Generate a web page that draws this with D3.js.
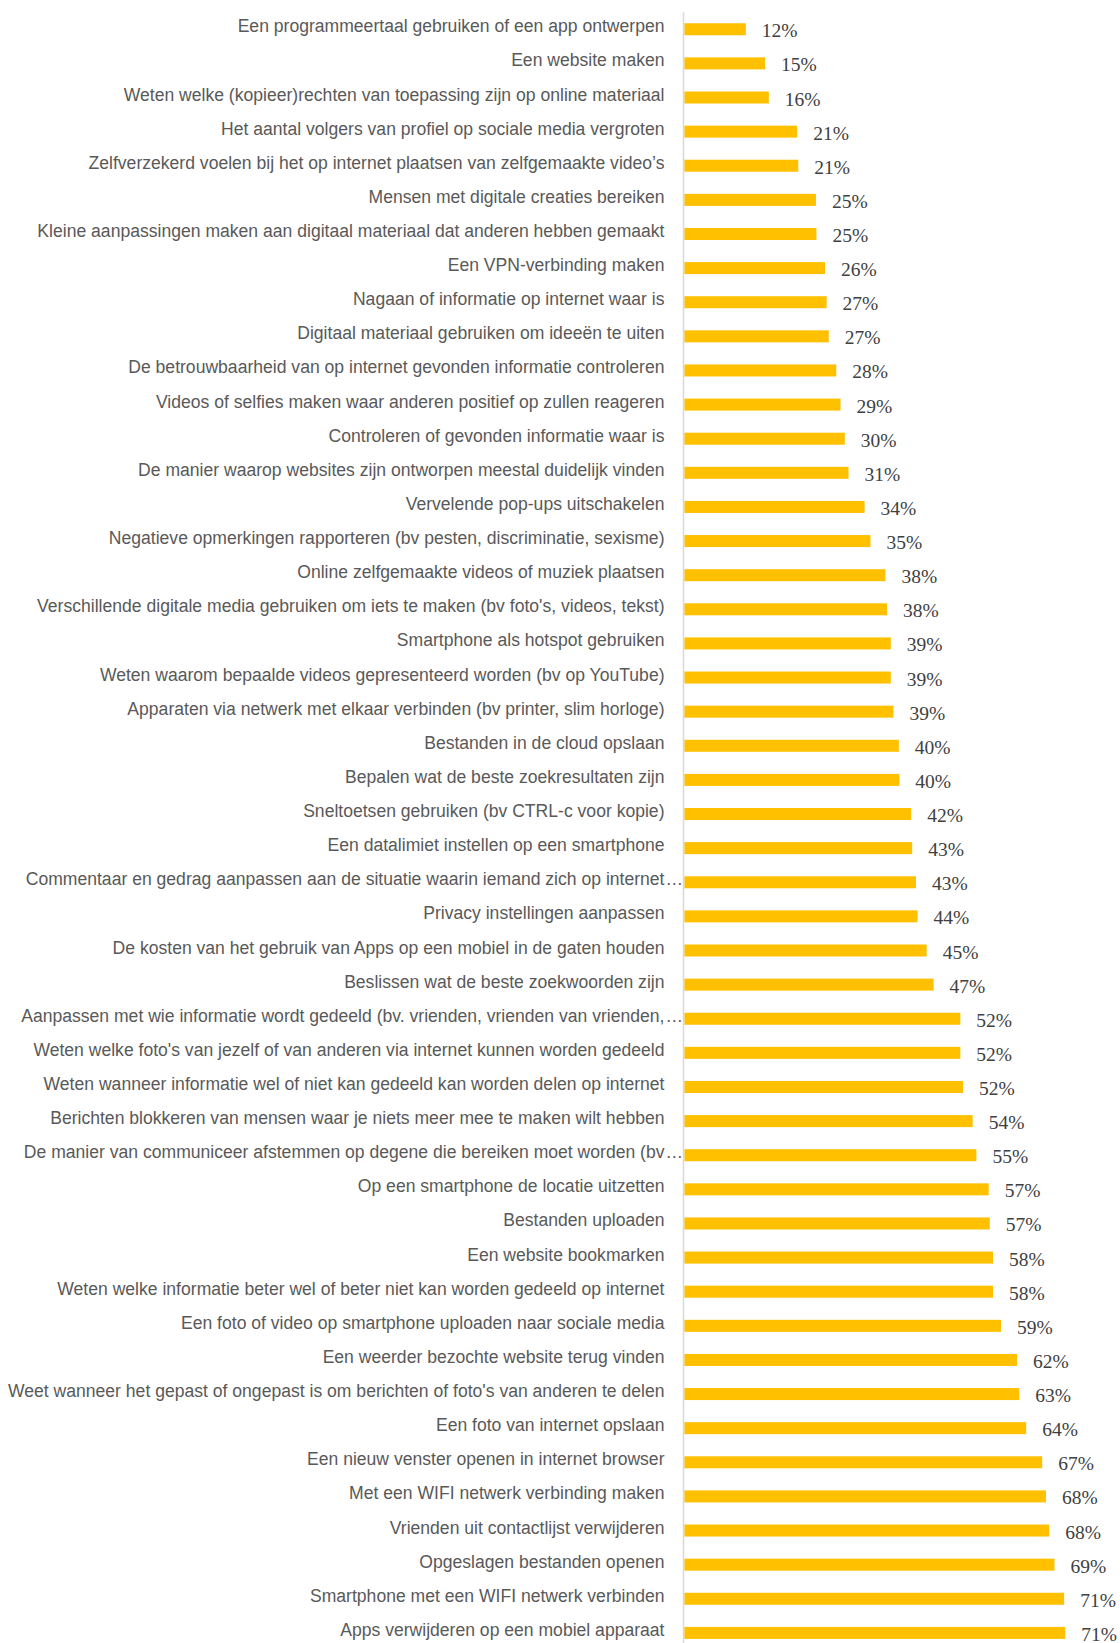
<!DOCTYPE html>
<html>
<head>
<meta charset="utf-8">
<script src="https://cdn.jsdelivr.net/npm/d3@7"></script>
<style>
  html, body { margin: 0; padding: 0; background: #ffffff; }
  svg { display: block; }
</style>
</head>
<body>
<div id="chart"></div>
<script>
const categories = [
  "Een programmeertaal gebruiken of een app ontwerpen",
  "Een website maken",
  "Weten welke (kopieer)rechten van toepassing zijn op online materiaal",
  "Het aantal volgers van profiel op sociale media vergroten",
  "Zelfverzekerd voelen bij het op internet plaatsen van zelfgemaakte video’s",
  "Mensen met digitale creaties bereiken",
  "Kleine aanpassingen maken aan digitaal materiaal dat anderen hebben gemaakt",
  "Een VPN-verbinding maken",
  "Nagaan of informatie op internet waar is",
  "Digitaal materiaal gebruiken om ideeën te uiten",
  "De betrouwbaarheid van op internet gevonden informatie controleren",
  "Videos of selfies maken waar anderen positief op zullen reageren",
  "Controleren of gevonden informatie waar is",
  "De manier waarop websites zijn ontworpen meestal duidelijk vinden",
  "Vervelende pop-ups uitschakelen",
  "Negatieve opmerkingen rapporteren (bv pesten, discriminatie, sexisme)",
  "Online zelfgemaakte videos of muziek plaatsen",
  "Verschillende digitale media gebruiken om iets te maken (bv foto's, videos, tekst)",
  "Smartphone als hotspot gebruiken",
  "Weten waarom bepaalde videos gepresenteerd worden (bv op YouTube)",
  "Apparaten via netwerk met elkaar verbinden (bv printer, slim horloge)",
  "Bestanden in de cloud opslaan",
  "Bepalen wat de beste zoekresultaten zijn",
  "Sneltoetsen gebruiken (bv CTRL-c voor kopie)",
  "Een datalimiet instellen op een smartphone",
  "Commentaar en gedrag aanpassen aan de situatie waarin iemand zich op internet…",
  "Privacy instellingen aanpassen",
  "De kosten van het gebruik van Apps op een mobiel in de gaten houden",
  "Beslissen wat de beste zoekwoorden zijn",
  "Aanpassen met wie informatie wordt gedeeld (bv. vrienden, vrienden van vrienden,…",
  "Weten welke foto's van jezelf of van anderen via internet kunnen worden gedeeld",
  "Weten wanneer informatie wel of niet kan gedeeld kan worden delen op internet",
  "Berichten blokkeren van mensen waar je niets meer mee te maken wilt hebben",
  "De manier van communiceer afstemmen op degene die bereiken moet worden (bv…",
  "Op een smartphone de locatie uitzetten",
  "Bestanden uploaden",
  "Een website bookmarken",
  "Weten welke informatie beter wel of beter niet kan worden gedeeld op internet",
  "Een foto of video op smartphone uploaden naar sociale media",
  "Een weerder bezochte website terug vinden",
  "Weet wanneer het gepast of ongepast is om berichten of foto's van anderen te delen",
  "Een foto van internet opslaan",
  "Een nieuw venster openen in internet browser",
  "Met een WIFI netwerk verbinding maken",
  "Vrienden uit contactlijst verwijderen",
  "Opgeslagen bestanden openen",
  "Smartphone met een WIFI netwerk verbinden",
  "Apps verwijderen op een mobiel apparaat"
];

// percentages (bar lengths)
const values = [
  11.5, 15.1, 15.8, 21.1, 21.3, 24.6, 24.7, 26.3, 26.6, 27.0,
  28.4, 29.2, 30.0, 30.7, 33.7, 34.8, 37.6, 37.9, 38.6, 38.6,
  39.1, 40.1, 40.2, 42.4, 42.6, 43.3, 43.6, 45.3, 46.6, 51.6,
  51.6, 52.1, 53.9, 54.6, 56.9, 57.1, 57.7, 57.7, 59.2, 62.2,
  62.6, 63.9, 66.9, 67.6, 68.2, 69.2, 71.0, 71.2
];

// displayed data labels
const labels = [
  "12%", "15%", "16%", "21%", "21%", "25%", "25%", "26%", "27%", "27%",
  "28%", "29%", "30%", "31%", "34%", "35%", "38%", "38%", "39%", "39%",
  "39%", "40%", "40%", "42%", "43%", "43%", "44%", "45%", "47%", "52%",
  "52%", "52%", "54%", "55%", "57%", "57%", "58%", "58%", "59%", "62%",
  "63%", "64%", "67%", "68%", "68%", "69%", "71%", "71%"
];

const W = 1120, H = 1643;
const svg = d3.select("#chart").append("svg")
  .attr("width", W).attr("height", H);

const axisX = 683.5;
const x = d3.scaleLinear().domain([0, 100]).range([684.3, 684.3 + 535]);
const y = d3.scaleBand()
  .domain(d3.range(categories.length))
  .range([12.2, 12.2 + 34.12 * categories.length])
  .paddingInner(0.648)
  .paddingOuter(0.324);

const rows = categories.map((c, i) => ({ c, v: values[i], l: labels[i], i }));

// bars
svg.append("g").selectAll("rect").data(rows).join("rect")
  .attr("x", x(0))
  .attr("y", d => y(d.i))
  .attr("width", d => x(d.v) - x(0))
  .attr("height", y.bandwidth())
  .attr("fill", "#FFC000");

// axis line
svg.append("line")
  .attr("x1", axisX).attr("x2", axisX)
  .attr("y1", 12.2).attr("y2", H)
  .attr("stroke", "#d9d9d9").attr("stroke-width", 1.6);

// category labels
const sx = 0.925;
const labelRight = 664.5;
const catG = svg.append("g")
  .attr("font-family", "'Liberation Sans', Arial, sans-serif")
  .attr("font-size", "19px")
  .attr("fill", "#595959");

rows.forEach(d => {
  const ell = d.c.endsWith("…");
  const txt = ell ? d.c.slice(0, -1) : d.c;
  const cy = y(d.i) + y.bandwidth() / 2 + 3;
  const g = catG.append("g").attr("transform", `translate(${labelRight},${cy}) scale(${sx},1)`);
  g.append("text").attr("text-anchor", "end").text(txt);
  if (ell) {
    g.append("text").attr("x", 1).attr("text-anchor", "start").text("…");
  }
});

// value labels
svg.append("g")
  .attr("font-family", "'Liberation Serif', 'Times New Roman', serif")
  .attr("font-size", "19.5px")
  .attr("fill", "#404040")
  .selectAll("text").data(rows).join("text")
  .attr("x", d => x(d.v) + 16)
  .attr("y", d => y(d.i) + y.bandwidth() / 2 + 8)
  .text(d => d.l);
</script>
</body>
</html>
